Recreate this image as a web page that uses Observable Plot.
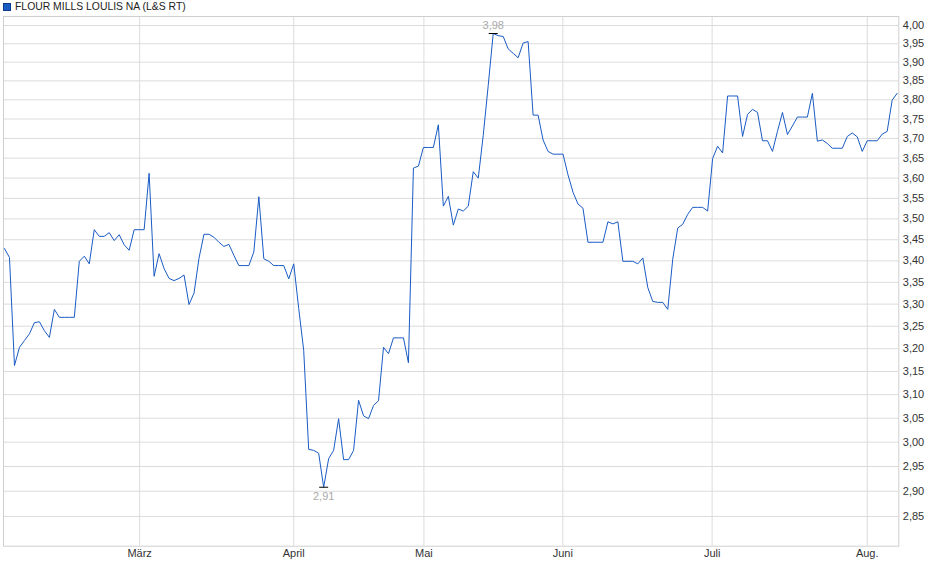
<!DOCTYPE html>
<html><head><meta charset="utf-8">
<script src="https://cdn.jsdelivr.net/npm/d3@7"></script>
<script src="https://cdn.jsdelivr.net/npm/@observablehq/plot@0.6"></script>
<style>
body{margin:0;background:#fff;font-family:"Liberation Sans",Arial,sans-serif;}
#legend{height:14px;font-size:10.4px;line-height:14px;color:#222;position:relative;}
#legend .sw{display:block;position:absolute;left:3px;top:2.5px;width:8px;height:8px;box-sizing:border-box;background:#1a5bc4;border:1px solid #0d3a8a;}
#legend .tx{position:absolute;left:15px;top:-0.5px;}
#chart svg{display:block;}
</style></head><body>
<div id="legend"><span class="sw"></span><span class="tx">FLOUR MILLS LOULIS NA (L&amp;S RT)</span></div>
<div id="chart"></div>
<script>
const seriesName = "FLOUR MILLS LOULIS NA (L&S RT)";
const prices = [
3.429,3.408,3.163,3.203,3.218,3.233,3.258,3.260,3.240,3.225,
3.288,3.270,3.270,3.270,3.270,3.399,3.411,3.393,3.474,3.458,
3.458,3.467,3.448,3.462,3.438,3.425,3.474,3.474,3.474,3.612,
3.364,3.417,3.382,3.359,3.354,3.359,3.367,3.299,3.325,3.406,
3.463,3.463,3.456,3.444,3.434,3.439,3.413,3.389,3.389,3.389,
3.421,3.554,3.405,3.399,3.389,3.389,3.389,3.358,3.393,3.290,
3.196,2.985,2.983,2.977,2.908,2.966,2.983,3.049,2.964,2.964,
2.983,3.088,3.055,3.049,3.077,3.087,3.203,3.189,3.224,3.224,
3.224,3.169,3.625,3.630,3.677,3.677,3.677,3.735,3.531,3.555,
3.485,3.524,3.519,3.531,3.616,3.600,3.708,3.838,3.978,3.972,
3.970,3.936,3.924,3.912,3.952,3.956,3.760,3.760,3.696,3.667,
3.660,3.660,3.660,3.608,3.565,3.536,3.526,3.444,3.444,3.444,
3.444,3.493,3.488,3.493,3.399,3.399,3.399,3.393,3.407,3.338,
3.306,3.304,3.304,3.288,3.404,3.478,3.487,3.511,3.528,3.528,
3.528,3.519,3.649,3.680,3.663,3.810,3.810,3.810,3.705,3.762,
3.775,3.767,3.694,3.694,3.667,3.718,3.767,3.710,3.732,3.755,
3.755,3.755,3.817,3.693,3.696,3.687,3.675,3.675,3.675,3.705,
3.714,3.704,3.667,3.694,3.694,3.694,3.711,3.718,3.799,3.817
];
const monthTickPos = [27.1, 58.0, 84.1, 111.95, 141.9, 173.0];
const monthLabels = ["März", "April", "Mai", "Juni", "Juli", "Aug."];
const yTicks = [2.85,2.90,2.95,3.00,3.05,3.10,3.15,3.20,3.25,3.30,3.35,3.40,3.45,3.50,3.55,3.60,3.65,3.70,3.75,3.80,3.85,3.90,3.95,4.00];

const data = prices.map((v, i) => ({i, v}));
const iMax = d3.maxIndex(prices), iMin = d3.minIndex(prices);
const fmt = d => d.toFixed(2).replace(".", ",");
const hi = [{i: iMax, v: prices[iMax]}];
const lo = [{i: iMin, v: prices[iMin]}];

const chart = Plot.plot({
  width: 940,
  height: 565,
  marginTop: 2,
  marginLeft: 3,
  marginRight: 41.7,
  marginBottom: 33.3,
  style: {fontFamily: "'Liberation Sans', Arial, sans-serif", fontSize: "11px", color: "#333", background: "#fff"},
  x: {domain: [-0.2, 179.33], label: null},
  y: {type: "log", domain: [2.792, 4.025], label: null},
  marks: [
    Plot.gridY(yTicks, {stroke: "#dcdcdc", strokeOpacity: 1}),
    Plot.gridX(monthTickPos, {stroke: "#dcdcdc", strokeOpacity: 1}),
    Plot.frame({stroke: "#cfcfcf"}),
    Plot.axisY(yTicks, {anchor: "right", tickSize: 0, tickPadding: 4, tickFormat: fmt, label: null, fill: "#333"}),
    Plot.axisX(monthTickPos, {anchor: "bottom", tickSize: 0, tickPadding: 3, tickFormat: d => monthLabels[monthTickPos.indexOf(d)], label: null, fill: "#333"}),
    Plot.line(data, {x: "i", y: "v", stroke: "#1a5bc4", strokeWidth: 1}),
    Plot.link(hi, {x1: d => d.i - 0.9, x2: d => d.i + 0.9, y1: "v", y2: "v", stroke: "#000", strokeWidth: 1}),
    Plot.link(lo, {x1: d => d.i - 0.9, x2: d => d.i + 0.9, y1: "v", y2: "v", stroke: "#000", strokeWidth: 1}),
    Plot.text(hi, {x: "i", y: "v", text: d => fmt(d.v), dy: -8, fill: "#a9a9a9", fontSize: 11}),
    Plot.text(lo, {x: "i", y: "v", text: d => fmt(d.v), dy: 9, fill: "#a9a9a9", fontSize: 11})
  ]
});
document.getElementById("chart").appendChild(chart);
</script>
</body></html>
